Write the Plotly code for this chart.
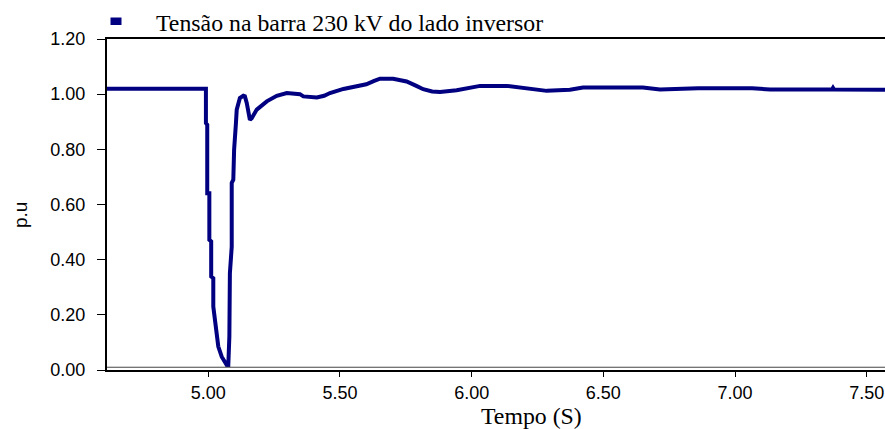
import plotly.graph_objects as go

# Voltage at the 230 kV inverter-side bus (p.u.) versus time (s)
tempo = [4.6154, 4.991, 4.991, 4.996, 4.996, 5.004, 5.004, 5.011, 5.011, 5.019,
         5.019, 5.027, 5.038, 5.051, 5.070, 5.076, 5.080, 5.082, 5.089, 5.089,
         5.095, 5.098, 5.101, 5.105, 5.108, 5.120, 5.133, 5.139, 5.146, 5.158,
         5.165, 5.184, 5.222, 5.260, 5.298, 5.348, 5.361, 5.390, 5.412, 5.440,
         5.462, 5.513, 5.560, 5.600, 5.630, 5.652, 5.702, 5.730, 5.753, 5.790,
         5.816, 5.850, 5.880, 5.943, 5.990, 6.032, 6.133, 6.209, 6.285, 6.373,
         6.423, 6.650, 6.715, 6.860, 7.065, 7.133, 7.368, 7.372, 7.376, 7.5695]
tensao = [1.020, 1.020, 0.895, 0.889, 0.641, 0.641, 0.472, 0.466, 0.339, 0.333,
          0.230, 0.157, 0.085, 0.048, 0.018, 0.018, 0.121, 0.351, 0.447, 0.678,
          0.690, 0.798, 0.871, 0.895, 0.944, 0.986, 0.994, 0.992, 0.968, 0.907,
          0.913, 0.944, 0.974, 0.994, 1.004, 1.000, 0.992, 0.988, 0.988, 0.994,
          1.004, 1.019, 1.028, 1.036, 1.048, 1.056, 1.056, 1.052, 1.046, 1.030,
          1.018, 1.010, 1.008, 1.014, 1.024, 1.030, 1.030, 1.022, 1.012, 1.016,
          1.024, 1.024, 1.017, 1.021, 1.021, 1.017, 1.017, 1.023, 1.017, 1.016]

y_ticks = [0.0, 0.2, 0.4, 0.6, 0.8, 1.0, 1.2]
x_ticks = [5.0, 5.5, 6.0, 6.5, 7.0, 7.5]
x_range = [4.6154, 7.5695]

serieNome = "Tensão na barra 230 kV do lado inversor"
cor = "#000080"
sans = "Liberation Sans"
serif = "Liberation Serif"

fig = go.Figure()
fig.add_trace(go.Scatter(x=tempo, y=tensao, mode="lines",
                         line=dict(color=cor, width=4), showlegend=False))

fig.update_layout(
    width=885, height=429,
    margin=dict(l=107, r=0, t=39, b=59),
    plot_bgcolor="white", paper_bgcolor="white",
    font=dict(family=sans, color="black"),
    xaxis=dict(range=x_range, tickvals=x_ticks,
               ticktext=[f"{v:.2f}" for v in x_ticks],
               showgrid=False, zeroline=False,
               showline=True, linecolor="black", linewidth=2, mirror=True,
               ticks="outside", ticklen=5, tickcolor="black", tickwidth=1,
               tickfont=dict(family=sans, size=18, color="black")),
    yaxis=dict(range=[0, 1.2], tickvals=y_ticks,
               ticktext=[f"{v:.2f}" for v in y_ticks],
               showgrid=False, zeroline=False,
               showline=True, linecolor="black", linewidth=2,
               ticks="outside", ticklen=8, tickcolor="black", tickwidth=1,
               ticklabelstandoff=8,
               tickfont=dict(family=sans, size=18, color="black")),
    shapes=[
        # thin rule just above the time axis
        dict(type="line", xref="paper", yref="y", x0=0, x1=1, y0=0.010, y1=0.010,
             line=dict(color="#444444", width=1)),
        # legend swatch
        dict(type="rect", xref="paper", yref="paper",
             xsizemode="pixel", ysizemode="pixel",
             xanchor=(116 - 107) / 778, yanchor=1,
             x0=-5.5, x1=5.5, y0=14, y1=21.5,
             fillcolor=cor, line=dict(width=0)),
    ],
    annotations=[
        dict(text=serieNome, xref="paper", yref="paper",
             x=(154 - 107) / 778, y=1, xanchor="left", yanchor="middle",
             yshift=16, showarrow=False,
             font=dict(family=serif, size=23.8, color="black")),
        dict(text="Tempo (S)", xref="paper", yref="paper",
             x=(531 - 107) / 778, y=0, xanchor="center", yanchor="middle",
             yshift=-46, showarrow=False,
             font=dict(family=serif, size=23.8, color="black")),
        dict(text="p.u", xref="paper", yref="paper",
             x=(20 - 107) / 778, y=(370 - 215) / 331, xanchor="center",
             yanchor="middle", textangle=-90, showarrow=False,
             font=dict(family=sans, size=19, color="black")),
    ],
)

fig.write_html("out.html")
